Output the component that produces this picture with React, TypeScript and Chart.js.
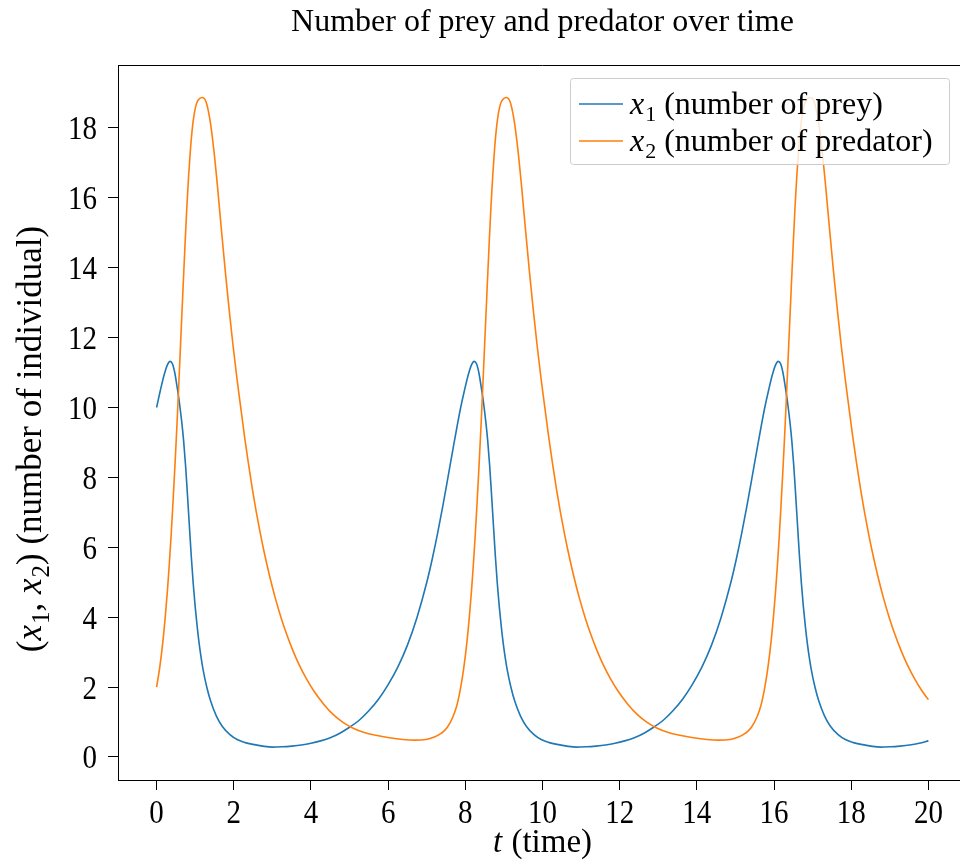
import React, { useEffect, useRef } from "react";
import { Chart, registerables } from "chart.js";

Chart.register(...registerables);

// ---------- data ----------
const TITLE = "Number of prey and predator over time";
const X_TICKS = [0, 2, 4, 6, 8, 10, 12, 14, 16, 18, 20];
const Y_TICKS = [0, 2, 4, 6, 8, 10, 12, 14, 16, 18];

const PREY_NAME = "(number of prey)";
const PRED_NAME = "(number of predator)";

// prey x1 : time and value
const PREY_T = [
  0.0, 0.1, 0.2, 0.28, 0.35, 0.41, 0.47, 0.53, 0.59, 0.65, 0.7, 0.75, 0.8, 0.85, 0.9, 0.95, 1.0, 1.05,
  1.1, 1.15, 1.2, 1.3, 1.4, 1.55, 1.7, 1.9, 2.1, 2.3, 2.5, 2.75, 3.0,
  3.25, 3.5, 3.75, 4.0, 4.25, 4.5, 4.75, 5.0, 5.25, 5.5, 5.75, 6.0, 6.25, 6.5, 6.75, 7.0, 7.14, 7.28, 7.42,
  7.55, 7.68, 7.78, 7.88, 7.98, 8.08, 8.16, 8.23,
  8.29, 8.35, 8.41, 8.47, 8.53, 8.58, 8.63, 8.68, 8.73, 8.78, 8.83, 8.88, 8.93, 8.98, 9.03, 9.08, 9.18,
  9.28, 9.43, 9.58, 9.78, 9.98, 10.18, 10.38, 10.63, 10.88,
  11.13, 11.38, 11.63, 11.88, 12.13, 12.38, 12.63, 12.88, 13.13, 13.38, 13.63, 13.88, 14.13, 14.38, 14.63,
  14.88, 15.02, 15.16, 15.3, 15.43, 15.56, 15.66, 15.76, 15.86, 15.96, 16.04, 16.11,
  16.17, 16.23, 16.29, 16.35, 16.41, 16.46, 16.51, 16.56, 16.61, 16.66, 16.71, 16.76, 16.81, 16.86, 16.91,
  16.96, 17.06, 17.16, 17.31, 17.46, 17.66, 17.86, 18.06, 18.26, 18.51, 18.76,
  19.01, 19.26, 19.51, 19.76, 20.0,
];
const PREY = [
  10.0, 10.5, 10.95, 11.22, 11.32, 11.25, 11.0, 10.6, 10.15, 9.6, 9.05, 8.35, 7.5, 6.6, 5.72, 4.95, 4.3, 3.75,
  3.27, 2.87, 2.53, 2.0, 1.6, 1.17, 0.88, 0.64, 0.49, 0.41, 0.36, 0.31, 0.28,
  0.29, 0.31, 0.34, 0.39, 0.46, 0.55, 0.68, 0.85, 1.05, 1.32, 1.65, 2.07, 2.57, 3.2, 4.0, 4.99, 5.65, 6.39, 7.2,
  8.0, 8.81, 9.42, 10.0, 10.5, 10.95, 11.22, 11.32,
  11.25, 11.0, 10.6, 10.15, 9.6, 9.05, 8.35, 7.5, 6.6, 5.72, 4.95, 4.3, 3.75, 3.27, 2.87, 2.53, 2.0,
  1.6, 1.17, 0.88, 0.64, 0.49, 0.41, 0.36, 0.31, 0.28,
  0.29, 0.31, 0.34, 0.39, 0.46, 0.55, 0.68, 0.85, 1.05, 1.32, 1.65, 2.07, 2.57, 3.2, 4.0,
  4.99, 5.65, 6.39, 7.2, 8.0, 8.81, 9.42, 10.0, 10.5, 10.95, 11.22, 11.32,
  11.25, 11.0, 10.6, 10.15, 9.6, 9.05, 8.35, 7.5, 6.6, 5.72, 4.95, 4.3, 3.75, 3.27, 2.87,
  2.53, 2.0, 1.6, 1.17, 0.88, 0.64, 0.49, 0.41, 0.36, 0.31, 0.28,
  0.29, 0.31, 0.34, 0.39, 0.46,
];

// predator x2 : time and value
const PRED_T = [
  0.0, 0.08, 0.16, 0.23, 0.28, 0.33, 0.38, 0.43, 0.48, 0.53, 0.58, 0.63, 0.68, 0.73, 0.78, 0.83, 0.88, 0.93,
  0.98, 1.03, 1.08, 1.18,
  1.28, 1.38, 1.48, 1.58, 1.68, 1.78, 1.88, 1.98, 2.08, 2.18, 2.28, 2.38, 2.48, 2.58, 2.68, 2.78, 2.93, 3.08,
  3.23, 3.38, 3.53, 3.68, 3.88, 4.08, 4.33, 4.58, 4.83, 5.08, 5.38, 5.68, 6.03, 6.38, 6.68, 6.98, 7.18, 7.38,
  7.53, 7.68, 7.78, 7.88,
  7.96, 8.04, 8.11, 8.16, 8.21, 8.26, 8.31, 8.36, 8.41, 8.46, 8.51, 8.56, 8.61, 8.66, 8.71, 8.76, 8.81, 8.86,
  8.91, 8.96, 9.06,
  9.16, 9.26, 9.36, 9.46, 9.56, 9.66, 9.76, 9.86, 9.96, 10.06, 10.16, 10.26, 10.36, 10.46, 10.56, 10.66,
  10.81, 10.96, 11.11, 11.26, 11.41, 11.56, 11.76, 11.96, 12.21, 12.46, 12.71, 12.96, 13.26, 13.56, 13.91,
  14.26, 14.56, 14.86, 15.06, 15.26, 15.41, 15.56, 15.66, 15.76,
  15.84, 15.92, 15.99, 16.04, 16.09, 16.14, 16.19, 16.24, 16.29, 16.34, 16.39, 16.44, 16.49, 16.54, 16.59,
  16.64, 16.69, 16.74, 16.79, 16.84, 16.94,
  17.04, 17.14, 17.24, 17.34, 17.44, 17.54, 17.64, 17.74, 17.84, 17.94, 18.04, 18.14, 18.24, 18.34, 18.44,
  18.54, 18.69, 18.84, 18.99, 19.14, 19.29, 19.44, 19.64, 19.84, 20.0,
];
const PRED = [
  2.0, 2.55, 3.27, 4.08, 4.75, 5.53, 6.4, 7.38, 8.43, 9.55, 10.78, 12.03, 13.28, 14.5, 15.65, 16.63, 17.43, 18.03,
  18.43, 18.68, 18.8, 18.87,
  18.75, 18.25, 17.4, 16.3, 15.08, 13.9, 12.8, 11.78, 10.85, 10.0, 9.16, 8.39, 7.68, 7.03, 6.44, 5.9, 5.17, 4.53,
  3.97, 3.48, 3.05, 2.67, 2.24, 1.88, 1.51, 1.21, 0.99, 0.83, 0.7, 0.62, 0.55, 0.5, 0.48, 0.5, 0.56, 0.68,
  0.84, 1.15, 1.47, 1.99,
  2.55, 3.27, 4.08, 4.75, 5.53, 6.4, 7.38, 8.43, 9.55, 10.78, 12.03, 13.28, 14.5, 15.65, 16.63, 17.43, 18.03, 18.43,
  18.68, 18.8, 18.87,
  18.75, 18.25, 17.4, 16.3, 15.08, 13.9, 12.8, 11.78, 10.85, 10.0, 9.16, 8.39, 7.68, 7.03, 6.44, 5.9,
  5.17, 4.53, 3.97, 3.48, 3.05, 2.67, 2.24, 1.88, 1.51, 1.21, 0.99, 0.83, 0.7, 0.62, 0.55,
  0.5, 0.48, 0.5, 0.56, 0.68, 0.84, 1.15, 1.47, 1.99,
  2.55, 3.27, 4.08, 4.75, 5.53, 6.4, 7.38, 8.43, 9.55, 10.78, 12.03, 13.28, 14.5, 15.65, 16.63,
  17.43, 18.03, 18.43, 18.68, 18.8, 18.87,
  18.75, 18.25, 17.4, 16.3, 15.08, 13.9, 12.8, 11.78, 10.85, 10.0, 9.16, 8.39, 7.68, 7.03, 6.44,
  5.9, 5.17, 4.53, 3.97, 3.48, 3.05, 2.67, 2.24, 1.88, 1.64,
];

// ---------- styling ----------
const SERIF = "'Liberation Serif', 'Times New Roman', serif";
const BLUE = "#1f77b4";
const ORANGE = "#ff7f0e";

type Run = { t: string; it?: boolean; sub?: boolean };

function runFont(r: Run, size: number) {
  const s = r.sub ? Math.round(size * 0.7) : size;
  return `${r.it ? "italic " : ""}${s}px ${SERIF}`;
}

function measureRuns(ctx: CanvasRenderingContext2D, runs: Run[], size: number) {
  let w = 0;
  for (const r of runs) {
    ctx.font = runFont(r, size);
    w += ctx.measureText(r.t).width + (r.it ? 1 : 0);
  }
  return w;
}

function drawRuns(
  ctx: CanvasRenderingContext2D,
  runs: Run[],
  x: number,
  y: number,
  align: "left" | "center",
  size: number
) {
  let cx = align === "center" ? x - measureRuns(ctx, runs, size) / 2 : x;
  ctx.textAlign = "left";
  ctx.textBaseline = "alphabetic";
  for (const r of runs) {
    ctx.font = runFont(r, size);
    ctx.fillText(r.t, cx, r.sub ? y + size * 0.22 : y);
    cx += ctx.measureText(r.t).width + (r.it ? 1 : 0);
  }
}

const textPlugin = {
  id: "textPlugin",
  afterDraw(chart: any) {
    const { ctx, chartArea: ca } = chart;
    const xs = chart.scales.x;
    const ys = chart.scales.y;
    ctx.save();
    // top / right frame lines
    ctx.strokeStyle = "#000";
    ctx.lineWidth = 1;
    ctx.beginPath();
    const top = Math.round(ca.top) + 0.5;
    ctx.moveTo(ca.left, top);
    ctx.lineTo(ca.right, top);
    ctx.moveTo(Math.round(ca.right) - 0.5, ca.top);
    ctx.lineTo(Math.round(ca.right) - 0.5, ca.bottom);
    ctx.stroke();

    ctx.fillStyle = "#000";

    // tick labels (slightly tall digits like the reference)
    ctx.font = `29px ${SERIF}`;
    ctx.textBaseline = "alphabetic";
    ctx.textAlign = "center";
    X_TICKS.forEach((v) => {
      ctx.save();
      ctx.translate(xs.getPixelForValue(v), 823);
      ctx.scale(1, 1.18);
      ctx.fillText(String(v), 0, 0);
      ctx.restore();
    });
    ctx.textAlign = "right";
    Y_TICKS.forEach((v) => {
      ctx.save();
      ctx.translate(97, ys.getPixelForValue(v) + 11.5);
      ctx.scale(1, 1.18);
      ctx.fillText(String(v), 0, 0);
      ctx.restore();
    });

    // title
    ctx.font = `32px ${SERIF}`;
    ctx.textAlign = "center";
    ctx.textBaseline = "alphabetic";
    ctx.fillText(TITLE, (ca.left + ca.right) / 2, 31);

    // x label
    drawRuns(ctx, [{ t: "t", it: true }, { t: " (time)" }], (ca.left + ca.right) / 2, 852, "center", 33);

    // y label
    ctx.save();
    ctx.translate(41, 439);
    ctx.rotate(-Math.PI / 2);
    drawRuns(
      ctx,
      [
        { t: "(" },
        { t: "x", it: true },
        { t: "1", sub: true },
        { t: ", " },
        { t: "x", it: true },
        { t: "2", sub: true },
        { t: ") (number of individual)" },
      ],
      0,
      0,
      "center",
      35
    );
    ctx.restore();

    // legend
    ctx.beginPath();
    ctx.roundRect(570.5, 78.5, 379, 86, 3);
    ctx.fillStyle = "rgba(255,255,255,0.8)";
    ctx.fill();
    ctx.strokeStyle = "#cccccc";
    ctx.lineWidth = 1;
    ctx.stroke();

    const rows: [string, string, string][] = [
      [BLUE, "1", PREY_NAME],
      [ORANGE, "2", PRED_NAME],
    ];
    rows.forEach(([col, sub, name], i) => {
      const yy = 104 + i * 37;
      ctx.strokeStyle = col;
      ctx.lineWidth = 1.5;
      ctx.beginPath();
      ctx.moveTo(579, yy);
      ctx.lineTo(623, yy);
      ctx.stroke();
      ctx.fillStyle = "#000";
      drawRuns(ctx, [{ t: "x", it: true }, { t: sub, sub: true }, { t: " " + name }], 630, yy + 10, "left", 32);
    });
    ctx.restore();
  },
};

export default function App() {
  const ref = useRef<HTMLCanvasElement | null>(null);

  useEffect(() => {
    const canvas = ref.current;
    if (!canvas) return;
    const axisCommon = {
      type: "linear",
      grid: { display: true, drawOnChartArea: false, drawTicks: true, tickLength: 10, color: "#000", lineWidth: 1 },
      border: { display: true, color: "#000", width: 1 },
    };
    const chart = new Chart(canvas, {
      type: "line",
      data: {
        datasets: [
          {
            label: "x1 " + PREY_NAME,
            data: PREY_T.map((t, i) => ({ x: t, y: PREY[i] })),
            borderColor: BLUE,
            backgroundColor: BLUE,
            borderWidth: 1.6,
            pointRadius: 0,
            cubicInterpolationMode: "monotone",
            order: 1,
          },
          {
            label: "x2 " + PRED_NAME,
            data: PRED_T.map((t, i) => ({ x: t, y: PRED[i] })),
            borderColor: ORANGE,
            backgroundColor: ORANGE,
            borderWidth: 1.6,
            pointRadius: 0,
            cubicInterpolationMode: "monotone",
            order: 0,
          },
        ],
      },
      options: {
        animation: false,
        responsive: false,
        layout: { padding: { top: 65, right: 33, left: 0, bottom: 0 } },
        plugins: {
          legend: { display: false },
          title: { display: false },
          tooltip: { enabled: false },
        },
        scales: {
          x: {
            ...axisCommon,
            min: -1,
            max: 21,
            afterBuildTicks: (s: any) => {
              s.ticks = X_TICKS.map((v) => ({ value: v }));
            },
            afterFit: (s: any) => {
              s.height = 83;
            },
            ticks: { display: false, autoSkip: false },
          },
          y: {
            ...axisCommon,
            min: -0.66,
            max: 19.8,
            afterBuildTicks: (s: any) => {
              s.ticks = Y_TICKS.map((v) => ({ value: v }));
            },
            afterFit: (s: any) => {
              s.width = 118;
            },
            ticks: { display: false, autoSkip: false },
          },
        },
      },
      plugins: [textPlugin],
    } as any);
    return () => chart.destroy();
  }, []);

  return (
    <div
      style={{
        position: "fixed",
        left: 0,
        top: 0,
        width: 960,
        height: 863,
        overflow: "hidden",
        background: "#fff",
      }}
    >
      <canvas ref={ref} width={1000} height={863} style={{ width: 1000, height: 863, display: "block" }} />
    </div>
  );
}
